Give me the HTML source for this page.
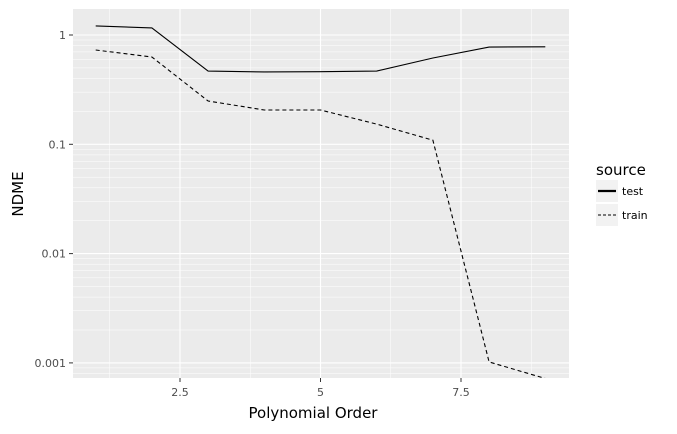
<!DOCTYPE html>
<html><head><meta charset="utf-8"><style>
body{margin:0;background:#fff;font-family:"DejaVu Sans","Liberation Sans",sans-serif}
</style></head><body>
<svg width="677" height="430" xmlns="http://www.w3.org/2000/svg" id="chart" font-family="DejaVu Sans, Liberation Sans, sans-serif">
<defs><clipPath id="pc"><rect x="73" y="9" width="496" height="369"/></clipPath></defs>
<rect x="73" y="9" width="496" height="369" fill="#ebebeb"/>
<g id="grid"></g>
<g id="series" clip-path="url(#pc)"></g>
<g id="axes"></g>
<text x="313" y="418" font-size="15" text-anchor="middle" fill="#000">Polynomial Order</text>
<text x="23" y="194" font-size="15" text-anchor="middle" transform="rotate(-90 23 194)" fill="#000">NDME</text>
<g>
<text x="596" y="175" font-size="15" fill="#000">source</text>
<g>
<rect x="596" y="180" width="22" height="22" fill="#f2f2f2"/>
<line x1="598" x2="616" y1="191" y2="191" stroke="#000" stroke-width="2.2"/>
<text x="622" y="195" font-size="11" fill="#000">test</text></g>
<g>
<rect x="596" y="204" width="22" height="22" fill="#f2f2f2"/>
<line x1="598" x2="616" y1="215" y2="215" stroke="#000" stroke-width="1" stroke-dasharray="3,2"/>
<text x="622" y="219" font-size="11" fill="#000">train</text></g>
</g>
</svg>
<script>
const xOrders=[1,2,3,4,5,6,7,8,9];
const testValues=[1.21,1.16,0.468,0.459,0.462,0.468,0.616,0.776,0.78];
const trainValues=[0.729,0.629,0.249,0.206,0.206,0.153,0.109,0.00102,0.00072];
const xTicks=[2.5,5,7.5];
const xTickLabels=["2.5","5","7.5"];
const yTicks=[1,0.1,0.01,0.001];
const yTickLabels=["1","0.1","0.01","0.001"];
const NS="http://www.w3.org/2000/svg";
function xs(v){return 180+(v-2.5)*(140.5/2.5);}
function ys(v){return 35-Math.log10(v)*109.3;}
function mk(tag,attrs,parent){const e=document.createElementNS(NS,tag);for(const k in attrs)e.setAttribute(k,attrs[k]);parent.appendChild(e);return e;}
const grid=document.getElementById('grid'),axes=document.getElementById('axes'),ser=document.getElementById('series');
for(let d=-4;d<=0;d++){for(let m=2;m<=9;m++){const v=m*Math.pow(10,d);const y=ys(v);if(y<9||y>378)continue;
const l=mk('line',{x1:73,x2:569,y1:y,y2:y,stroke:'#fff','stroke-width':0.5},grid);

}}
[1.25,3.75,6.25,8.75].forEach(v=>{const l=mk('line',{x1:xs(v),x2:xs(v),y1:9,y2:378,stroke:'#fff','stroke-width':0.5},grid);

});
yTicks.forEach((v,i)=>{const y=ys(v);
const l=mk('line',{x1:73,x2:569,y1:y,y2:y,stroke:'#fff','stroke-width':1.1},grid);


mk('line',{x1:69,x2:73,y1:y,y2:y,stroke:'#333','stroke-width':1},axes);
const t=mk('text',{x:66,y:y+4,'font-size':11,'text-anchor':'end',fill:'#4d4d4d'},axes);t.textContent=yTickLabels[i];

});
xTicks.forEach((v,i)=>{const x=xs(v);
const l=mk('line',{x1:x,x2:x,y1:9,y2:378,stroke:'#fff','stroke-width':1.1},grid);


mk('line',{x1:x,x2:x,y1:378,y2:382,stroke:'#333','stroke-width':1},axes);
const t=mk('text',{x:x,y:396,'font-size':11,'text-anchor':'middle',fill:'#4d4d4d'},axes);t.textContent=xTickLabels[i];

});
function pts(vals){return xOrders.map((x,i)=>xs(x)+','+ys(vals[i])).join(' ');}
const a=mk('polyline',{points:pts(testValues),fill:'none',stroke:'#000','stroke-width':1.1},ser);


const b=mk('polyline',{points:pts(trainValues),fill:'none',stroke:'#000','stroke-width':1.1,'stroke-dasharray':'4,3'},ser);


</script>
</body></html>
